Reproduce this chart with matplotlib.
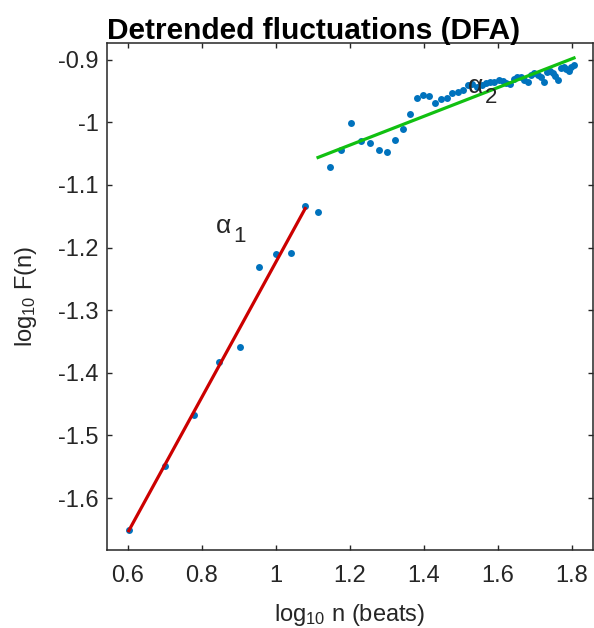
import numpy as np
import matplotlib
matplotlib.use("Agg")
import matplotlib.pyplot as plt
from matplotlib.ticker import FuncFormatter

plt.rcParams['font.family'] = ['Liberation Sans', 'DejaVu Sans']
plt.rcParams['mathtext.fontset'] = 'custom'
plt.rcParams['mathtext.rm'] = 'Liberation Sans'
plt.rcParams['mathtext.it'] = 'Liberation Sans'
plt.rcParams['axes.unicode_minus'] = False

# window sizes n (beats)
n_short = np.arange(4, 13)
n_long = np.arange(13, 65)

# log10 F(n)
logF_short = [-1.651, -1.548, -1.467, -1.383, -1.359, -1.231, -1.211, -1.208, -1.133]
logF_long = [-1.144, -1.072, -1.044, -1.001, -1.030, -1.033, -1.044, -1.047, -1.028,
             -1.011, -0.987, -0.961, -0.956, -0.958, -0.969, -0.963, -0.961, -0.953,
             -0.951, -0.948, -0.940, -0.939, -0.943,
             -0.941, -0.938, -0.936, -0.935, -0.933, -0.934, -0.937, -0.939, -0.931,
             -0.927, -0.928, -0.932, -0.936, -0.925, -0.922, -0.924, -0.928, -0.935,
             -0.920, -0.918, -0.921, -0.926, -0.932, -0.914, -0.912, -0.915, -0.918,
             -0.911, -0.909]

x_ticks = [0.6, 0.8, 1, 1.2, 1.4, 1.6, 1.8]
y_ticks = [-1.6, -1.5, -1.4, -1.3, -1.2, -1.1, -1, -0.9]

x1 = np.log10(n_short)
x2 = np.log10(n_long)
x_all = np.concatenate([x1, x2])
y_all = np.concatenate([logF_short, logF_long])

# linear fits for the two scaling regions
p1 = np.polyfit(x1, logF_short, 1)
p2 = np.polyfit(x2, logF_long, 1)

fig = plt.figure(figsize=(5.94, 6.28), dpi=100)
ax = fig.add_axes([0.180, 0.125, 0.818, 0.807])

ax.plot(x_all, y_all, 'o', color='#0072BD', markersize=5, markeredgewidth=0)
ax.plot(x1, np.polyval(p1, x1), color='#CC0000', linewidth=2.3)
ax.plot(x2, np.polyval(p2, x2), color='#11C011', linewidth=2.3)

# alpha labels, MATLAB-style big low subscript
for xa, ya, sub in [(0.835, -1.176, '1'), (1.516, -0.953, '2')]:
    ax.text(xa, ya, r'$\alpha$', fontsize=19, color='#262626', va='baseline')
    ax.annotate(sub, xy=(xa, ya), xytext=(13, -7), textcoords='offset points',
                fontsize=16, color='#262626', va='baseline')

ax.set_xlim(0.543, 1.857)
ax.set_ylim(-1.682, -0.873)
ax.set_xticks(x_ticks)
ax.set_yticks(y_ticks)
fmt = FuncFormatter(lambda v, pos: '%g' % v)
ax.xaxis.set_major_formatter(fmt)
ax.yaxis.set_major_formatter(fmt)

ax.tick_params(direction='in', length=3.5, width=1, colors='#262626',
               labelsize=17, top=True, right=True)
ax.tick_params(axis='x', pad=11)
ax.tick_params(axis='y', pad=6)
for s in ax.spines.values():
    s.set_color('#262626')
    s.set_linewidth(1.1)

ax.set_xlabel(r'log$_{10}$ n (beats)', fontsize=17, color='#262626', labelpad=11)
ax.set_ylabel(r'log$_{10}$ F(n)', fontsize=17, color='#262626', labelpad=14)
ax.set_title('Detrended fluctuations (DFA)', loc='left', fontsize=21.5,
             fontweight='bold', pad=3)

fig.savefig('out.png', dpi=100)
